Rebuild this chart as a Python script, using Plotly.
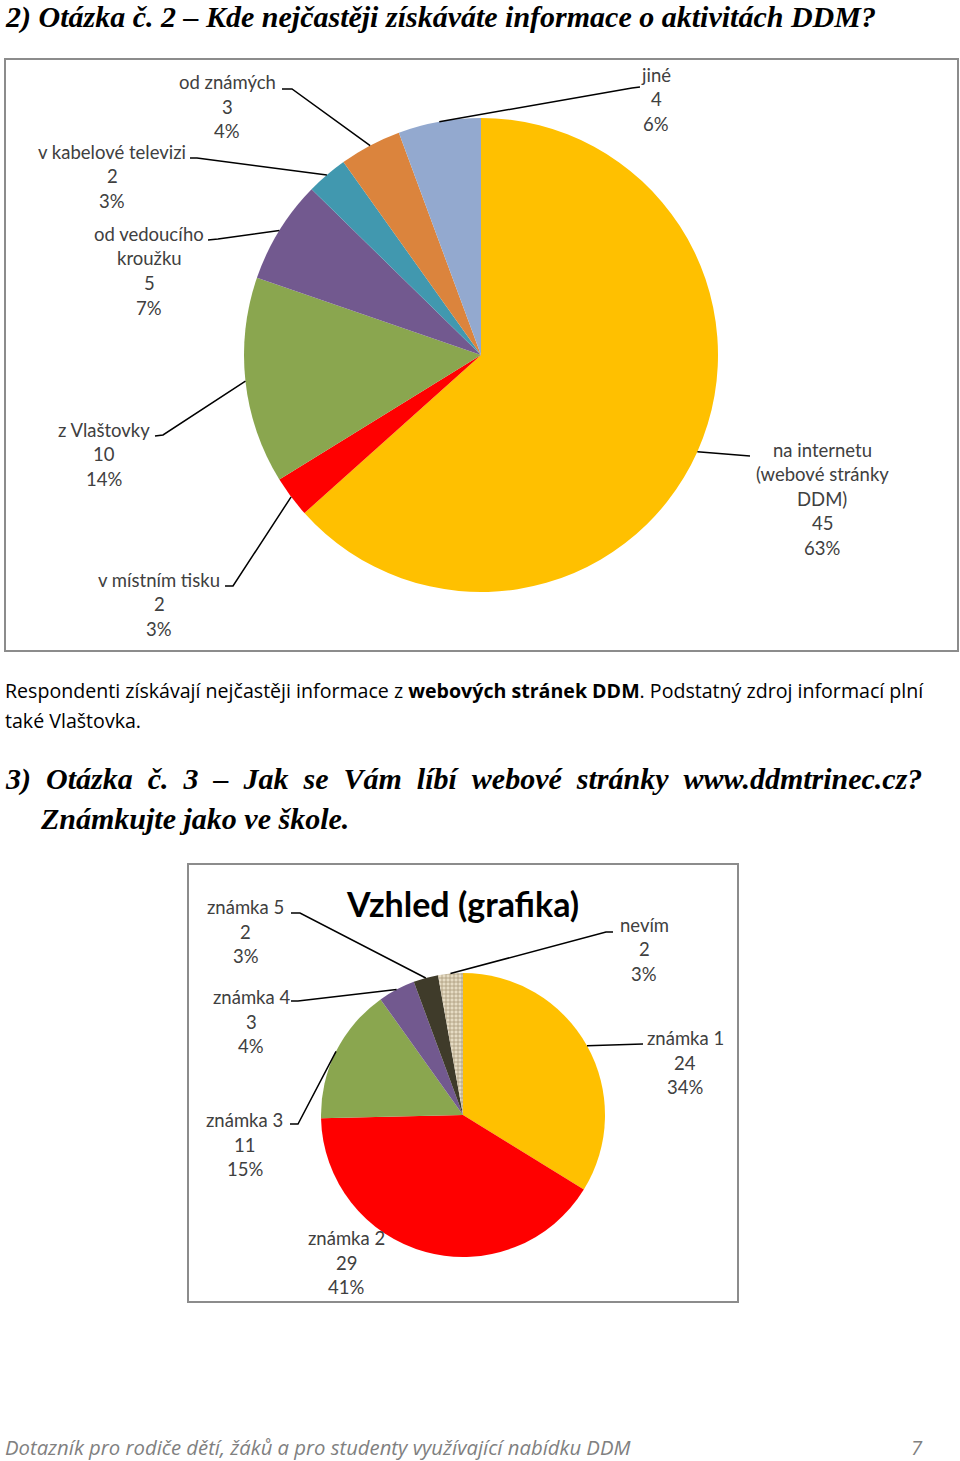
import math
import plotly.graph_objects as go

W, H = 960, 1461

# ---------------- data ----------------
q2_labels = ["na internetu (webové stránky DDM)", "v místním tisku", "z Vlaštovky",
             "od vedoucího kroužku", "v kabelové televizi", "od známých", "jiné"]
q2_lines = [["na internetu", "(webové stránky", "DDM)"], ["v místním tisku"], ["z Vlaštovky"],
            ["od vedoucího", "kroužku"], ["v kabelové televizi"], ["od známých"], ["jiné"]]
q2_values = [45, 2, 10, 5, 2, 3, 4]
q2_colors = ["#FFC000", "#FF0000", "#8AA64F", "#72598F", "#4198AF", "#DB843D", "#93A9CF"]

q3_labels = ["známka 1", "známka 2", "známka 3", "známka 4", "známka 5", "nevím"]
q3_values = [24, 29, 11, 3, 2, 2]
q3_colors = ["#FFC000", "#FF0000", "#8AA64F", "#72598F", "#3F3B2A", "#E4D8BC"]

# ---------------- layout constants (pixels) ----------------
P1 = dict(cx=481, cy=355, r=237)
P2 = dict(cx=463, cy=1115, r=142)
LINE_H = 24.5
LABEL_FONT = dict(family="Lato", size=18.5, color="#404040")

# label layout: centre x, first line y, leader (elbow, anchor) or None
q2_lay = [
    (822, 450, None, (750, 456)),
    (159, 580, (233, 586), (225, 586)),
    (104, 430, (163, 435), (155, 436)),
    (149, 234, (218, 239), (208, 240)),
    (112, 152, (197, 158), (190, 158)),
    (227, 82, (292, 89), (282, 89)),
    (656, 75, (632, 88), (640, 87)),
]
q3_lay = [
    (685, 1038, None, (643, 1044)),
    (346, 1238, None, None),
    (245, 1120, (298, 1124), (290, 1124)),
    (251, 997, (298, 1001), (291, 1001)),
    (246, 907, (300, 913), (291, 913)),
    (644, 925, (606, 932), (613, 932)),
]


def px(x):
    return x / W


def py(y):
    return 1 - y / H


def domain(p):
    return dict(x=[px(p["cx"] - p["r"]), px(p["cx"] + p["r"])],
                y=[py(p["cy"] + p["r"]), py(p["cy"] - p["r"])])


fig = go.Figure()

fig.add_trace(go.Pie(
    labels=q2_labels, values=q2_values, sort=False, direction="clockwise", rotation=0,
    marker=dict(colors=q2_colors, line=dict(width=0)), textinfo="none",
    hoverinfo="label+value+percent", domain=domain(P1), showlegend=False))

fig.add_trace(go.Pie(
    labels=q3_labels, values=q3_values, sort=False, direction="clockwise", rotation=0,
    marker=dict(colors=q3_colors, line=dict(width=0),
                pattern=dict(shape=["", "", "", "", "", "+"],
                             fgcolor="#A8987A", bgcolor="#E6DCC4", size=4, solidity=0.35)),
    textinfo="none", hoverinfo="label+value+percent", domain=domain(P2), showlegend=False))

annotations = []
shapes = []


def add_labels(p, values, lines_list, lay):
    total = sum(values)
    cum = 0
    for v, lines, (cx, y0, elbow, anchor) in zip(values, lines_list, lay):
        mid = (cum + v / 2) / total * 2 * math.pi
        cum += v
        all_lines = list(lines) + [str(v), f"{round(v / total * 100)}%"]
        for i, t in enumerate(all_lines):
            annotations.append(dict(x=px(cx), y=py(y0 + i * LINE_H), xref="paper", yref="paper",
                                    text=t, showarrow=False, xanchor="center", yanchor="middle",
                                    font=LABEL_FONT))
        if anchor is None:
            continue
        ex = p["cx"] + p["r"] * math.sin(mid)
        ey = p["cy"] - p["r"] * math.cos(mid)
        pts = [(ex, ey)] + ([elbow] if elbow else []) + [anchor]
        path = "M " + " L ".join(f"{px(a):.5f},{py(b):.5f}" for a, b in pts)
        shapes.append(dict(type="path", path=path, xref="paper", yref="paper",
                           line=dict(color="#000000", width=1.5)))


add_labels(P1, q2_values, q2_lines, q2_lay)
add_labels(P2, q3_values, [[l] for l in q3_labels], q3_lay)

# chart frames
for x0, y0, x1, y1 in [(5, 59, 958, 651), (188, 864, 738, 1302)]:
    shapes.append(dict(type="rect", xref="paper", yref="paper",
                       x0=px(x0), x1=px(x1), y0=py(y1), y1=py(y0),
                       line=dict(color="#8C8C8C", width=2), fillcolor="rgba(0,0,0,0)"))

HEAD_FONT = dict(family="Liberation Serif", size=30, color="#000000")
BODY_FONT = dict(family="Open Sans", size=19.6, color="#000000")


def text(x, y, t, font, xanchor="left"):
    annotations.append(dict(x=px(x), y=py(y), xref="paper", yref="paper", text=t,
                            showarrow=False, xanchor=xanchor, yanchor="middle", font=font))


text(3, 17, "<b><i>2) Otázka č. 2 – Kde nejčastěji získáváte informace o aktivitách DDM?</i></b>", HEAD_FONT)
text(3, 690, "Respondenti získávají nejčastěji informace z <b>webových stránek DDM</b>. "
             "Podstatný zdroj informací plní", BODY_FONT)
text(3, 720, "také Vlaštovka.", BODY_FONT)
line3 = "3) Otázka č. 3 – Jak se Vám líbí webové stránky www.ddmtrinec.cz?".replace(" ", " \u00a0")
text(3, 779, f"<b><i>{line3}</i></b>", HEAD_FONT)
text(38, 818, "<b><i>Známkujte jako ve škole.</i></b>", HEAD_FONT)
text(462, 903, "<b>Vzhled (grafika)</b>", dict(family="Lato", size=34, color="#000000"), "center")
FOOT_FONT = dict(family="Open Sans", size=20.3, color="#808080")
text(3, 1447, "<i>Dotazník pro rodiče dětí, žáků a pro studenty využívající nabídku DDM</i>", FOOT_FONT)
text(917, 1447, "<i>7</i>", FOOT_FONT, "center")

fig.update_layout(width=W, height=H, margin=dict(l=0, r=0, t=0, b=0),
                  paper_bgcolor="white", plot_bgcolor="white", showlegend=False,
                  annotations=annotations, shapes=shapes)

fig.write_html("out.html")
